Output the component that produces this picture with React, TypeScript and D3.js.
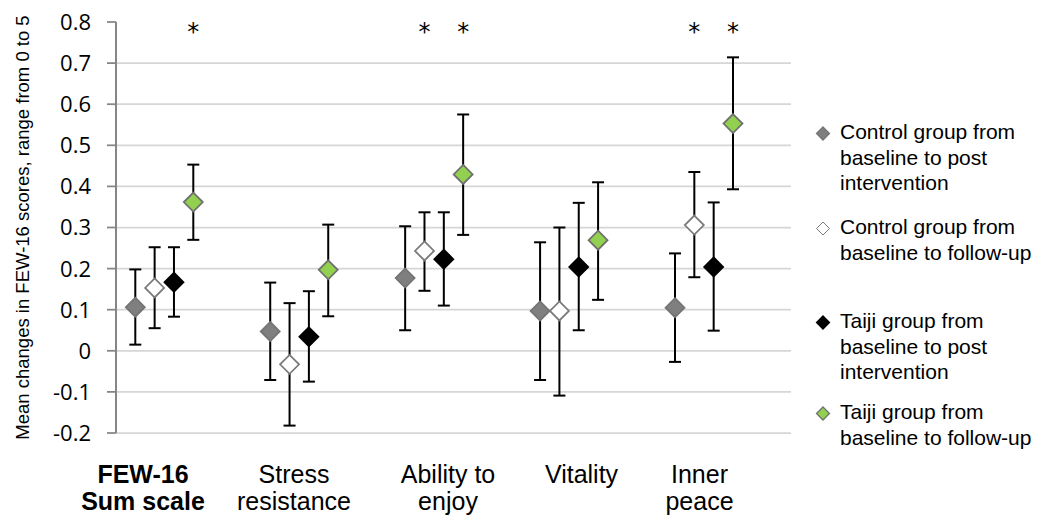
import * as d3 from 'd3';

// categories and labels
const categories = ['FEW-16 Sum scale', 'Stress resistance', 'Ability to enjoy', 'Vitality', 'Inner peace'];
const categoryLines = [['FEW-16', 'Sum scale'], ['Stress', 'resistance'], ['Ability to', 'enjoy'], ['Vitality'], ['Inner', 'peace']];

// mean changes and error bar bounds per series
const controlPostMean = [0.106, 0.047, 0.177, 0.097, 0.105];
const controlPostLow = [0.015, -0.071, 0.050, -0.071, -0.027];
const controlPostHigh = [0.198, 0.166, 0.303, 0.264, 0.237];

const controlFollowMean = [0.153, -0.033, 0.243, 0.097, 0.306];
const controlFollowLow = [0.055, -0.182, 0.146, -0.109, 0.179];
const controlFollowHigh = [0.252, 0.116, 0.337, 0.300, 0.435];

const taijiPostMean = [0.167, 0.034, 0.223, 0.204, 0.204];
const taijiPostLow = [0.083, -0.075, 0.110, 0.050, 0.049];
const taijiPostHigh = [0.252, 0.145, 0.337, 0.360, 0.361];

const taijiFollowMean = [0.362, 0.197, 0.429, 0.269, 0.553];
const taijiFollowLow = [0.270, 0.084, 0.282, 0.124, 0.393];
const taijiFollowHigh = [0.453, 0.307, 0.575, 0.410, 0.714];

// significance stars: [category index, series index]
const stars = [[0, 3], [2, 1], [2, 3], [4, 1], [4, 3]];

const yTicks = [-0.2, -0.1, 0, 0.1, 0.2, 0.3, 0.4, 0.5, 0.6, 0.7, 0.8];

const series = [
    { name: ['Control group from', 'baseline to post', 'intervention'], mean: controlPostMean, low: controlPostLow, high: controlPostHigh, fill: '#7f7f7f', stroke: '#747474' },
    { name: ['Control group from', 'baseline to follow-up'], mean: controlFollowMean, low: controlFollowLow, high: controlFollowHigh, fill: '#ffffff', stroke: '#7a7a7a' },
    { name: ['Taiji group from', 'baseline to post', 'intervention'], mean: taijiPostMean, low: taijiPostLow, high: taijiPostHigh, fill: '#000000', stroke: '#000000' },
    { name: ['Taiji group from', 'baseline to follow-up'], mean: taijiFollowMean, low: taijiFollowLow, high: taijiFollowHigh, fill: '#92d050', stroke: '#6f6f6f' },
];

const W = 1037, H = 519;
const axisX = 116, gridRight = 791;
const labelX = [143, 294, 448, 581.5, 699.5];
const legendY = [131.5, 226.5, 320.5, 411.5];

const y = d3.scaleLinear().domain([-0.2, 0.8]).range([433, 22]);
const x = d3.scalePoint().domain(categories).range([164.3, 704]);
const offset = d3.scalePoint().domain(d3.range(series.length).map(String)).range([-29, 29]);

const diamond = (cx, cy, r) => `M${cx},${cy - r}L${cx + r},${cy}L${cx},${cy + r}L${cx - r},${cy}Z`;

const App = () => {
    const sx = (ci, si) => x(categories[ci]) + offset(String(si));
    return (
        <svg width={W} height={H} style={{ position: 'absolute', left: 0, top: 0, background: '#fff' }}>
            {/* grid */}
            {yTicks.filter(t => t < 0.8).map(t => (
                <line key={t} x1={axisX} x2={gridRight} y1={y(t)} y2={y(t)} stroke="#d6d6d6" strokeWidth={1.75} />
            ))}
            {/* y axis */}
            <line x1={axisX} x2={axisX} y1={y(0.8)} y2={y(-0.2)} stroke="#868686" strokeWidth={2} />
            {yTicks.map(t => (
                <g key={t}>
                    <line x1={axisX - 9} x2={axisX} y1={y(t)} y2={y(t)} stroke="#868686" strokeWidth={1.75} />
                    <text x={91} y={y(t)} dy="0.36em" textAnchor="end" fontFamily="'Open Sans'" fontSize={22} fill="#000">
                        {String(+t.toFixed(1))}
                    </text>
                </g>
            ))}
            <text transform={`translate(28.5,${227.5}) rotate(-90)`} textAnchor="middle" fontFamily="'Liberation Sans', Arial" fontSize={18.5}>
                Mean changes in FEW-16 scores, range from 0 to 5
            </text>
            {/* error bars */}
            {series.map((s, si) => s.mean.map((m, ci) => {
                const cx = sx(ci, si);
                return (
                    <g key={`e${si}-${ci}`} stroke="#000" strokeWidth={2}>
                        <line x1={cx} x2={cx} y1={y(s.high[ci])} y2={y(s.low[ci])} />
                        <line x1={cx - 6} x2={cx + 6} y1={y(s.high[ci])} y2={y(s.high[ci])} />
                        <line x1={cx - 6} x2={cx + 6} y1={y(s.low[ci])} y2={y(s.low[ci])} />
                    </g>
                );
            }))}
            {/* markers */}
            {series.map((s, si) => s.mean.map((m, ci) => (
                <path key={`m${si}-${ci}`} d={diamond(sx(ci, si), y(m), 9.5)} fill={s.fill} stroke={s.stroke} strokeWidth={1.75} />
            )))}
            {/* stars */}
            {stars.map(([ci, si]) => (
                <text key={`s${ci}-${si}`} x={sx(ci, si)} y={40} textAnchor="middle" fontFamily="'DejaVu Sans'" fontSize={24}>*</text>
            ))}
            {/* category labels */}
            {categoryLines.map((lines, i) => (
                <text key={i} textAnchor="middle" fontFamily="'Liberation Sans', Arial" fontSize={25} fontWeight={i === 0 ? 'bold' : 'normal'}>
                    {lines.map((l, j) => (
                        <tspan key={j} x={labelX[i]} y={483 + j * 27}>{l}</tspan>
                    ))}
                </text>
            ))}
            {/* legend */}
            {series.map((s, si) => (
                <g key={`l${si}`}>
                    <path d={diamond(823, legendY[si] + 2, 6.5)} fill={s.fill} stroke={s.stroke} strokeWidth={si === 1 ? 1 : 1.25} />
                    <text fontFamily="'Liberation Sans', Arial" fontSize={21}>
                        {s.name.map((l, j) => (
                            <tspan key={j} x={840} y={legendY[si] + 7.5 + j * 25.5}>{l}</tspan>
                        ))}
                    </text>
                </g>
            ))}
        </svg>
    );
};

export default App;
